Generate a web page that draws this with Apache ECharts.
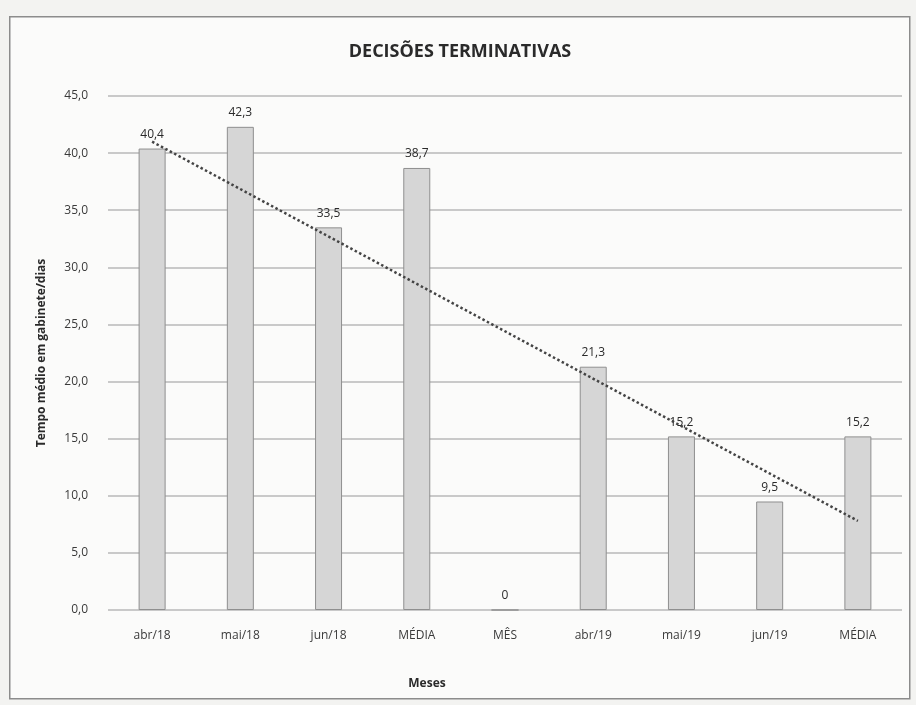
<!DOCTYPE html>
<html>
<head>
<meta charset="utf-8">
<script src="https://cdn.jsdelivr.net/npm/echarts@6/dist/echarts.min.js"></script>
<style>
html,body{margin:0;padding:0;background:#f3f3f1;}
#chart{width:916px;height:705px;}
</style>
</head>
<body>
<div id="chart"></div>
<script>
const categories = ['abr/18','mai/18','jun/18','MÉDIA','MÊS','abr/19','mai/19','jun/19','MÉDIA'];
const values = [40.4, 42.3, 33.5, 38.7, 0, 21.3, 15.2, 9.5, 15.2];
// linear trendline endpoints (first and last category)
const trendValues = [41.0, null, null, null, null, null, null, null, 7.8];
const yTicks = {min: 0, max: 45, interval: 5};

const fmt = v => v === 0 ? '0' : v.toFixed(1).replace('.', ',');
const font = '"Open Sans", "Liberation Sans", sans-serif';

const chart = echarts.init(document.getElementById('chart'));
chart.setOption({
  backgroundColor: '#f3f3f1',
  animation: false,
  graphic: [{
    type: 'rect', left: 9, top: 16, shape: {width: 900, height: 682},
    style: {fill: '#fbfbfa', stroke: '#8c8c8c', lineWidth: 1.5}, z: -10
  }],
  title: [{
    text: 'DECISÕES TERMINATIVAS', left: 455, top: 38, textAlign: 'center',
    textStyle: {fontFamily: font, fontSize: 18, fontWeight: 'bold', color: '#2a2a2a'}
  }, {
    text: 'Meses', left: 422, top: 673, textAlign: 'center',
    textStyle: {fontFamily: font, fontSize: 12, fontWeight: 'bold', color: '#2a2a2a'}
  }],
  grid: {left: 108, right: 14, top: 96, bottom: 95},
  xAxis: {
    type: 'category', data: categories,
    axisLine: {show: false}, axisTick: {show: false},
    axisLabel: {fontFamily: font, fontSize: 12, color: '#3a3a3a', margin: 20}
  },
  yAxis: {
    type: 'value', min: yTicks.min, max: yTicks.max, interval: yTicks.interval,
    name: 'Tempo médio em gabinete/dias', nameLocation: 'middle', nameGap: 60,
    nameTextStyle: {fontFamily: font, fontSize: 12, fontWeight: 'bold', color: '#2a2a2a'},
    axisLine: {show: false}, axisTick: {show: false},
    axisLabel: {fontFamily: font, fontSize: 12, color: '#3a3a3a', margin: 20, formatter: v => v.toFixed(1).replace('.', ',')},
    splitLine: {lineStyle: {color: '#b8b8b8', width: 1.5}}
  },
  series: [{
    type: 'bar', data: values, barWidth: 27,
    itemStyle: {color: '#d6d6d6', borderColor: '#8f8f8f', borderWidth: 1},
    label: {show: true, position: 'top', distance: 8, fontFamily: font, fontSize: 12, color: '#2a2a2a', formatter: p => fmt(p.value)}
  }, {
    type: 'line', data: trendValues, connectNulls: true, symbol: 'none', z: 5,
    lineStyle: {type: 'dotted', color: '#444', width: 2.5}
  }]
});
</script>
</body>
</html>
